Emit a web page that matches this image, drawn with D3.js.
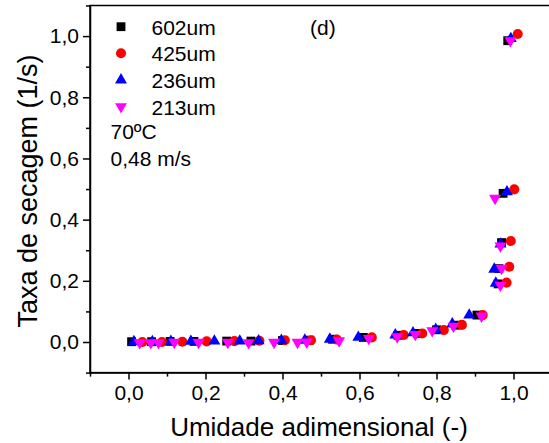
<!DOCTYPE html>
<html><head><meta charset="utf-8">
<script src="https://cdn.jsdelivr.net/npm/d3@7/dist/d3.min.js"></script>
<style>body{margin:0;background:#fff}svg{display:block;font-family:"Liberation Sans",Arial,sans-serif}</style>
</head><body>
<svg id="c" width="549" height="443"></svg>
<script>
const seriesNames = ["602um", "425um", "236um", "213um"];
const seriesColors = ["#000000", "#ff0000", "#0000ff", "#ff00ff"];
const seriesShapes = ["square", "circle", "triangleUp", "triangleDown"];

const x602 = [0.008, 0.06, 0.108, 0.17, 0.255, 0.318, 0.40, 0.47, 0.53, 0.61, 0.70, 0.75, 0.80, 0.85, 0.905, 0.96, 0.962, 0.969, 0.973, 0.985];
const y602 = [0.001, 0.001, 0.002, 0.002, 0.003, 0.003, 0.005, 0.006, 0.009, 0.015, 0.022, 0.028, 0.040, 0.055, 0.088, 0.19, 0.24, 0.325, 0.486, 0.985];

const x425 = [0.036, 0.087, 0.14, 0.203, 0.275, 0.340, 0.406, 0.474, 0.541, 0.632, 0.715, 0.763, 0.819, 0.866, 0.920, 0.982, 0.989, 0.993, 1.002, 1.011];
const y425 = [0.000, 0.000, 0.001, 0.002, 0.003, 0.004, 0.006, 0.006, 0.008, 0.015, 0.023, 0.028, 0.039, 0.056, 0.088, 0.194, 0.246, 0.330, 0.499, 1.007];

const x236 = [0.014, 0.062, 0.110, 0.162, 0.223, 0.289, 0.338, 0.397, 0.458, 0.523, 0.597, 0.693, 0.739, 0.798, 0.841, 0.885, 0.950, 0.954, 0.966, 0.983, 0.993];
const y236 = [0.001, 0.001, 0.002, 0.002, 0.003, 0.003, 0.004, 0.005, 0.006, 0.009, 0.015, 0.023, 0.030, 0.041, 0.059, 0.088, 0.238, 0.192, 0.320, 0.491, 0.992];

const x213 = [0.029, 0.058, 0.078, 0.119, 0.182, 0.258, 0.312, 0.378, 0.439, 0.463, 0.547, 0.624, 0.698, 0.745, 0.789, 0.844, 0.917, 0.966, 0.969, 0.966, 0.952, 0.992];
const y213 = [-0.002, -0.002, -0.002, -0.001, -0.001, -0.001, -0.002, -0.001, -0.001, 0.000, 0.004, 0.012, 0.017, 0.025, 0.037, 0.052, 0.085, 0.186, 0.241, 0.314, 0.470, 0.985];

const xTicks = [0.0, 0.2, 0.4, 0.6, 0.8, 1.0];
const yTicks = [0.0, 0.2, 0.4, 0.6, 0.8, 1.0];
const minorTicks = [-0.1, 0.1, 0.3, 0.5, 0.7, 0.9, 1.1];
const xTitle = "Umidade adimensional (-)";
const yTitle = "Taxa de secagem (1/s)";
const annotations = ["70ºC", "0,48 m/s"];
const panelLabel = "(d)";

const allX = [x602, x425, x236, x213];
const allY = [y602, y425, y236, y213];

const svg = d3.select("#c");
const L = 90, R = 552, T = 5.5, B = 372.6;
const xs = d3.scaleLinear().domain([-0.1, 1.1]).range([L, R]);
const ys = d3.scaleLinear().domain([-0.1, 1.1]).range([B, T]);
const fmt = d => d3.format(".1f")(d).replace(".", ",");

// frame
svg.append("rect").attr("x", L).attr("y", T).attr("width", R - L).attr("height", B - T)
  .attr("fill", "none").attr("stroke", "#000").attr("stroke-width", 1.5);

// x axis
const gx = svg.append("g").attr("transform", `translate(0,${B})`)
  .call(d3.axisBottom(xs).tickValues(xTicks).tickFormat(fmt).tickSize(7).tickSizeOuter(0));
gx.select(".domain").attr("stroke-width", 1.5);
gx.selectAll(".tick line").attr("stroke-width", 1.5);
gx.selectAll("text").attr("font-size", 21).attr("font-family", "Liberation Sans, Arial, sans-serif").attr("fill", "#000").attr("dy", "1.05em").attr("y", 5);
svg.append("g").attr("transform", `translate(0,${B})`)
  .call(d3.axisBottom(xs).tickValues(minorTicks).tickFormat("").tickSize(4).tickSizeOuter(0))
  .call(g => g.select(".domain").remove())
  .selectAll(".tick line").attr("stroke-width", 1.5);

// y axis
const gy = svg.append("g").attr("transform", `translate(${L},0)`)
  .call(d3.axisLeft(ys).tickValues(yTicks).tickFormat(fmt).tickSize(7).tickSizeOuter(0));
gy.select(".domain").attr("stroke-width", 1.5);
gy.selectAll(".tick line").attr("stroke-width", 1.5);
gy.selectAll("text").attr("font-size", 21).attr("font-family", "Liberation Sans, Arial, sans-serif").attr("fill", "#000").attr("x", -11);
svg.append("g").attr("transform", `translate(${L},0)`)
  .call(d3.axisLeft(ys).tickValues(minorTicks).tickFormat("").tickSize(4).tickSizeOuter(0))
  .call(g => g.select(".domain").remove())
  .selectAll(".tick line").attr("stroke-width", 1.5);

// titles
svg.append("text").attr("x", 319).attr("y", 436).attr("text-anchor", "middle")
  .attr("font-size", 26).text(xTitle);
svg.append("text").attr("transform", `translate(37,191) rotate(-90)`).attr("text-anchor", "middle")
  .attr("font-size", 27).text(yTitle);

// symbols
const symType = {square: d3.symbolSquare, circle: d3.symbolCircle, triangleUp: d3.symbolTriangle, triangleDown: d3.symbolTriangle};
const symSize = {square: 78, circle: 80, triangleUp: 62, triangleDown: 62};
function sym(shape) { return d3.symbol().type(symType[shape]).size(symSize[shape])(); }
function rot(shape) { return shape === "triangleDown" ? " rotate(180)" : ""; }

allX.forEach((xa, i) => {
  const shape = seriesShapes[i];
  const pts = xa.map((v, j) => [v, allY[i][j]]);
  svg.append("g").selectAll("path").data(pts).join("path")
    .attr("d", sym(shape))
    .attr("transform", d => `translate(${xs(d[0])},${ys(d[1])})${rot(shape)}`)
    .attr("fill", seriesColors[i]);
});

// legend
const legY = [26.7, 53.3, 80, 106.7];
seriesNames.forEach((n, i) => {
  const shape = seriesShapes[i];
  svg.append("path").attr("d", sym(shape))
    .attr("transform", `translate(121,${legY[i]})${rot(shape)}`)
    .attr("fill", seriesColors[i]);
  svg.append("text").attr("x", 151.5).attr("y", legY[i] + 8).attr("font-size", 21).text(n);
});
svg.append("text").attr("x", 110.5).attr("y", 138.5).attr("font-size", 21).text(annotations[0]);
svg.append("text").attr("x", 110.5).attr("y", 165.5).attr("font-size", 21).text(annotations[1]);
svg.append("text").attr("x", 310).attr("y", 34.5).attr("font-size", 21).text(panelLabel);
</script>
</body></html>
